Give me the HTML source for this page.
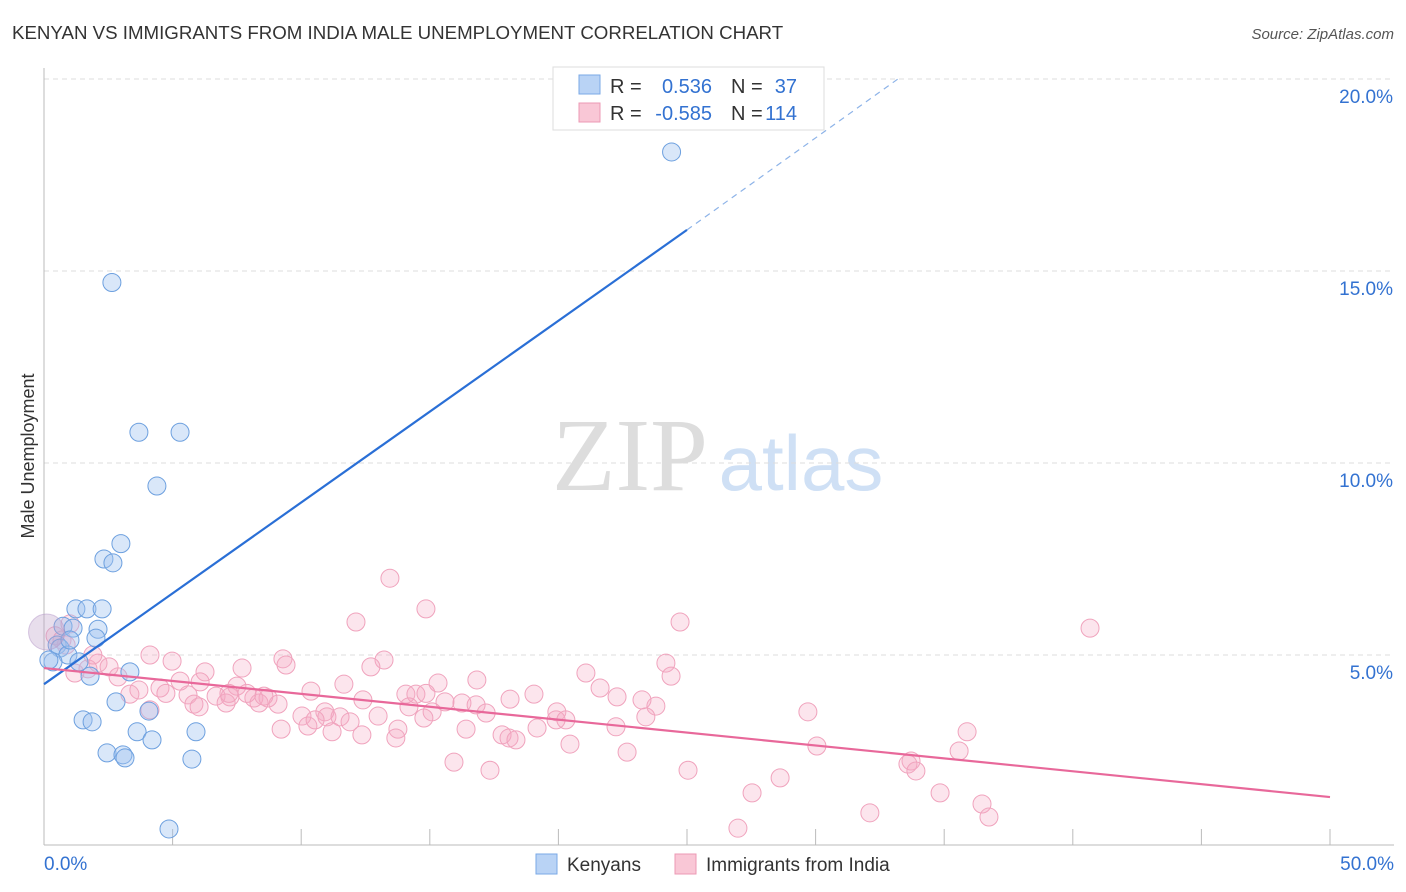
<!DOCTYPE html>
<html><head><meta charset="utf-8"><style>
body{margin:0;background:#fff;font-family:"Liberation Sans",sans-serif}
svg{display:block}
</style></head><body>
<svg id="c" width="1406" height="892">
<text x="12" y="39" font-size="18.7" fill="#333">KENYAN VS IMMIGRANTS FROM INDIA MALE UNEMPLOYMENT CORRELATION CHART</text>
<text x="1394" y="39" font-size="15" fill="#555" font-style="italic" text-anchor="end">Source: ZipAtlas.com</text>
<g>
<text x="630" y="490" font-family="Liberation Serif" font-size="104" fill="#ddd" text-anchor="middle">ZIP</text>
<text x="801" y="490" font-size="78" fill="#cfe0f5" text-anchor="middle">atlas</text>
</g>
<g id="grid"></g><g id="axes"></g><g id="pts"></g><g id="trend"></g>
<text transform="translate(34,456) rotate(-90)" font-size="18" fill="#333" text-anchor="middle">Male Unemployment</text>
<g>
<rect x="553" y="67" width="271" height="63" fill="#fff" stroke="#ddd"/>
<rect x="579" y="75" width="21" height="19" fill="#b9d3f5" stroke="#7aa8e6"/>
<rect x="579" y="103" width="21" height="19" fill="#f9c7d6" stroke="#ec9ab4"/>
<text x="610" y="93" font-size="20" fill="#333">R =</text><text x="712" y="93" font-size="20" fill="#3372d1" text-anchor="end">0.536</text>
<text x="731" y="93" font-size="20" fill="#333">N =</text><text x="797" y="93" font-size="20" fill="#3372d1" text-anchor="end">37</text>
<text x="610" y="120" font-size="20" fill="#333">R =</text><text x="712" y="120" font-size="20" fill="#3372d1" text-anchor="end">-0.585</text>
<text x="731" y="120" font-size="20" fill="#333">N =</text><text x="797" y="120" font-size="20" fill="#3372d1" text-anchor="end">114</text>
</g>
<g>
<rect x="536" y="854" width="21" height="20" fill="#b9d3f5" stroke="#7aa8e6"/>
<text x="567" y="871" font-size="19" fill="#333">Kenyans</text>
<rect x="675" y="854" width="21" height="20" fill="#f9c7d6" stroke="#ec9ab4"/>
<text x="706" y="871" font-size="19" fill="#333">Immigrants from India</text>
</g>
</svg>
<script>
const yTicks=[5,10,15,20];
const yTickLabels=["5.0%","10.0%","15.0%","20.0%"];
const xTickLabels=["0.0%","50.0%"];
const kenX=[24.4,2.64,3.69,5.29,4.39,2.99,2.33,2.68,1.24,1.67,2.26,0.74,2.1,1.13,2.02,0.51,0.62,0.93,0.35,0.19,1.36,1.79,3.34,2.8,1.52,1.87,3.62,5.91,4.2,2.45,3.07,3.15,5.75,4.86,4.08,1.01,0.1];
const kenY=[18.1,14.7,10.8,10.8,9.4,7.9,7.5,7.4,6.2,6.2,6.2,5.75,5.67,5.7,5.44,5.26,5.18,5.0,4.82,4.87,4.82,4.45,4.56,3.78,3.31,3.26,3.0,3.0,2.79,2.45,2.4,2.32,2.29,0.47,3.54,5.39,5.6];
const kenR=[9,9,9,9,9,9,9,9,9,9,9,9,9,9,9,9,9,9,9,9,9,9,9,9,9,9,9,9,9,9,9,9,9,9,9,9,18];
const indX=[13.45,14.85,12.13,24.73,40.67,4.12,9.29,4.98,9.41,13.22,12.71,24.18,7.7,6.26,21.07,24.38,16.83,15.32,5.29,2.88,2.1,1.71,1.2,7.5,11.66,19.05,22.28,10.38,14.07,14.46,5.6,6.69,7.23,8.16,8.71,18.12,3.69,4.51,3.34,8.36,7.08,5.83,6.03,9.1,12.4,16.25,16.8,17.19,15.59,14.19,23.79,19.94,15.09,10.92,19.91,10.03,11.0,11.51,11.9,12.99,14.77,20.29,23.4,9.22,10.26,10.54,13.76,16.41,19.17,22.24,29.7,17.81,18.08,18.35,12.36,11.2,13.68,20.45,22.67,35.89,30.05,35.58,15.94,17.34,25.04,33.71,33.59,33.9,28.62,27.53,34.84,36.47,36.74,32.11,26.98,0.7,0.43,1.01,0.86,1.9,2.53,4.12,4.74,6.07,7.19,7.89,8.55,14.85,21.62,23.25];
const indY=[7.0,6.2,5.86,5.86,5.7,5.0,4.9,4.84,4.74,4.87,4.69,4.79,4.66,4.56,4.53,4.45,4.35,4.27,4.32,4.43,4.79,4.64,4.53,4.19,4.24,3.98,3.91,4.06,3.98,3.98,3.96,3.93,3.91,3.88,3.88,3.85,4.09,4.14,3.98,3.75,3.75,3.72,3.65,3.72,3.83,3.75,3.7,3.49,3.78,3.65,3.67,3.52,3.52,3.52,3.31,3.41,3.39,3.39,3.26,3.41,3.36,3.31,3.39,3.07,3.15,3.31,3.07,3.07,3.1,3.13,3.52,2.92,2.84,2.79,2.92,3.0,2.84,2.68,2.47,3.0,2.63,2.5,2.21,2.0,2.0,2.24,2.16,1.98,1.8,1.41,1.41,1.12,0.78,0.89,0.49,5.39,5.5,5.81,5.26,5.0,4.69,3.57,4.0,4.3,4.0,4.0,3.93,4.0,4.14,3.83];
const kenTrend=[[0,4.24],[25,16.07]], kenDash=[[25,16.07],[33.2,20.0]];
const indTrend=[[0,4.66],[50,1.3]];
const X=v=>44+v*25.72, Y=v=>847-v*38.4;
const NS="http://www.w3.org/2000/svg";
function mk(tag,attrs,parent){const e=document.createElementNS(NS,tag);for(const k in attrs)e.setAttribute(k,attrs[k]);parent.appendChild(e);return e;}
const grid=document.getElementById('grid'),axes=document.getElementById('axes'),pts=document.getElementById('pts'),tr=document.getElementById('trend');
yTicks.forEach((t,i)=>{
 const l=mk('line',{x1:44,x2:1394,y1:Y(t),y2:Y(t),stroke:'#ddd','stroke-dasharray':'5,4'},grid);
 
 
 const tx=mk('text',{x:1393,y:Y(t)+24,'font-size':19,fill:'#3372d1','text-anchor':'end'},axes);
 tx.textContent=yTickLabels[i];
 
 
});
const ax=mk('line',{x1:44,x2:44,y1:68,y2:845,stroke:'#bbb'},axes);


const bx=mk('line',{x1:44,x2:1394,y1:845,y2:845,stroke:'#bbb'},axes);


for(let i=1;i<=10;i++){const t=mk('line',{x1:X(i*5),x2:X(i*5),y1:829,y2:845,stroke:'#bbb'},axes);
 
 }
[[0,'start',44],[50,'end',1394]].forEach((d,i)=>{const t=mk('text',{x:d[2],y:870,'font-size':19,fill:'#3372d1','text-anchor':d[1]},axes);t.textContent=xTickLabels[i];
 
 });
indX.forEach((v,i)=>{const c=mk('circle',{cx:X(v),cy:Y(indY[i]),r:9,fill:'rgba(246,168,194,0.3)',stroke:'#f0a3bd','stroke-width':1},pts);
 
 });
kenX.forEach((v,i)=>{const c=mk('circle',{cx:X(v),cy:Y(kenY[i]),r:kenR[i],fill:kenR[i]>9?'rgba(190,160,200,0.35)':'rgba(160,196,240,0.4)',stroke:kenR[i]>9?'rgba(180,150,200,0.5)':'#6da0df','stroke-width':1},pts);
 
 });
const k=mk('line',{x1:X(kenTrend[0][0]),y1:Y(kenTrend[0][1]),x2:X(kenTrend[1][0]),y2:Y(kenTrend[1][1]),stroke:'#2a6fd6','stroke-width':2.2},tr);


const kd=mk('line',{x1:X(kenDash[0][0]),y1:Y(kenDash[0][1]),x2:X(kenDash[1][0]),y2:Y(kenDash[1][1]),stroke:'#8db3e8','stroke-width':1.2,'stroke-dasharray':'6,5'},tr);


const p=mk('line',{x1:X(indTrend[0][0]),y1:Y(indTrend[0][1]),x2:X(indTrend[1][0]),y2:Y(indTrend[1][1]),stroke:'#e8689a','stroke-width':2.2},tr);


</script>
</body></html>
